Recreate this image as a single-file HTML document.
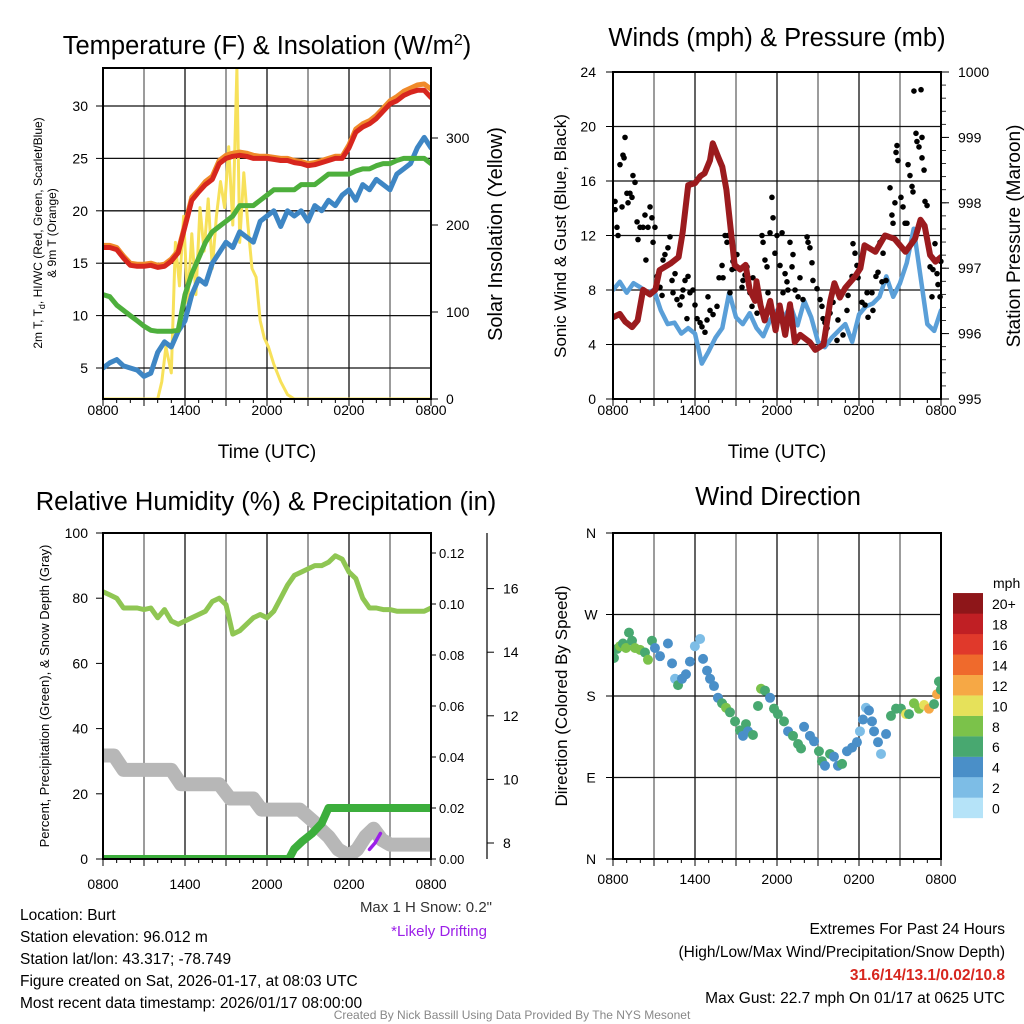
<!DOCTYPE html>
<html><head><meta charset="utf-8"><style>
html,body{margin:0;padding:0;background:#fff;}
svg{display:block;font-family:"Liberation Sans",sans-serif;}
</style></head><body>
<svg id="c" width="1024" height="1024" viewBox="0 0 1024 1024">
<defs>
<clipPath id="cp1"><rect x="103" y="68" width="328" height="331"/></clipPath>
<clipPath id="cp2"><rect x="613" y="72" width="328" height="327"/></clipPath>
<clipPath id="cp3"><rect x="103" y="533" width="328" height="326"/></clipPath>
<clipPath id="cp4"><rect x="613" y="533" width="328" height="326"/></clipPath>
</defs>
<g id="root"></g>
<text x="267" y="54" font-size="25.5" text-anchor="middle">Temperature (F) &amp; Insolation (W/m<tspan dy="-9" font-size="16">2</tspan><tspan dy="9">)</tspan></text>
<text x="777" y="46" font-size="25.5" text-anchor="middle">Winds (mph) &amp; Pressure (mb)</text>
<text x="266" y="510" font-size="25.5" text-anchor="middle">Relative Humidity (%) &amp; Precipitation (in)</text>
<text x="778" y="505" font-size="25.5" text-anchor="middle">Wind Direction</text>
<text x="267" y="458" font-size="19" text-anchor="middle">Time (UTC)</text>
<text x="777" y="458" font-size="19" text-anchor="middle">Time (UTC)</text>
<text transform="translate(42,233) rotate(-90)" font-size="12" text-anchor="middle">2m T, T<tspan font-size="9" dy="3">d</tspan><tspan dy="-3">, HI/WC (Red, Green, Scarlet/Blue)</tspan></text>
<text transform="translate(56,233) rotate(-90)" font-size="12" text-anchor="middle">&amp; 9m T (Orange)</text>
<text transform="translate(502,234) rotate(-90)" font-size="20" text-anchor="middle">Solar Insolation (Yellow)</text>
<text transform="translate(566,236) rotate(-90)" font-size="17" text-anchor="middle">Sonic Wind &amp; Gust (Blue, Black)</text>
<text transform="translate(1020,236) rotate(-90)" font-size="19" text-anchor="middle">Station Pressure (Maroon)</text>
<text transform="translate(49,696) rotate(-90)" font-size="13" text-anchor="middle">Percent, Precipitation (Green), &amp; Snow Depth (Gray)</text>
<text transform="translate(567,696) rotate(-90)" font-size="17" text-anchor="middle">Direction (Colored By Speed)</text>
<text x="993" y="588" font-size="14">mph</text>
<text x="492" y="912" font-size="15" text-anchor="end" fill="#333">Max 1 H Snow: 0.2"</text>
<text x="487" y="936" font-size="15" text-anchor="end" fill="#9b1fe8">*Likely Drifting</text>
<g font-size="15.5">
<text x="20" y="920">Location: Burt</text>
<text x="20" y="942">Station elevation: 96.012 m</text>
<text x="20" y="964">Station lat/lon: 43.317; -78.749</text>
<text x="20" y="986">Figure created on Sat, 2026-01-17, at 08:03 UTC</text>
<text x="20" y="1008">Most recent data timestamp: 2026/01/17 08:00:00</text>
</g>
<g font-size="15.5" text-anchor="end">
<text x="1005" y="934">Extremes For Past 24 Hours</text>
<text x="1005" y="957">(High/Low/Max Wind/Precipitation/Snow Depth)</text>
<text x="1005" y="980" fill="#d7261e" font-weight="bold">31.6/14/13.1/0.02/10.8</text>
<text x="1005" y="1003">Max Gust: 22.7 mph On 01/17 at 0625 UTC</text>
</g>
<text x="512" y="1019" font-size="12" text-anchor="middle" fill="#888">Created By Nick Bassill Using Data Provided By The NYS Mesonet</text>
</svg>
<script>
// ---------- data ----------
const halfHours = [0,0.5,1,1.5,2,2.5,3,3.5,4,4.5,5,5.5,6,6.5,7,7.5,8,8.5,9,9.5,10,10.5,11,11.5,12,12.5,13,13.5,14,14.5,15,15.5,16,16.5,17,17.5,18,18.5,19,19.5,20,20.5,21,21.5,22,22.5,23,23.5,24];
const tempRed = [16.5,16.5,16.3,15.5,14.8,14.7,14.7,14.8,14.6,14.7,15.2,16,18.5,21,21.8,22.5,23,24.5,25,25.2,25.3,25.2,25,25,25,24.9,24.8,24.8,24.6,24.5,24.3,24.4,24.6,24.8,25,25,26,27.5,28,28.3,28.8,29.5,30.2,30.5,31,31.3,31.5,31.5,30.8];
const tempOrange = [16.7,16.7,16.5,15.7,15,14.9,14.9,15,14.8,14.9,15.4,16.2,18.7,21.3,22,22.8,23.3,24.8,25.3,25.5,25.6,25.5,25.3,25.2,25.2,25.1,25,25,24.8,24.7,24.5,24.6,24.8,25,25.2,25.2,26.3,27.8,28.3,28.6,29.1,29.8,30.5,30.9,31.4,31.7,32,32.1,31.6];
const tempGreen = [12,11.8,11,10.5,10,9.5,9,8.6,8.5,8.5,8.5,8.6,12,14,15.5,17,18,18.5,19,19.5,20.5,20.5,20.5,21,21.5,22,22,22,22,22.5,22.5,22.5,23,23.5,23.5,23.5,23.5,23.8,24,24,24.3,24.5,24.5,24.8,25,25,25,25,24.5];
const tempBlue = [5,5.5,5.8,5.2,5,4.8,4.2,4.5,6.5,7.5,7,8.5,9.5,12,13.5,13,15,16,17,16.5,18,17.5,17,19,19.5,20,18.5,20,19.5,20,19,20.5,20,21,20.5,21.5,22,21,22.5,22,23,22.5,22,23.5,24,24.5,26,27,26];
const solarHours = [0,4.0,4.3,4.6,5.0,5.3,5.6,5.9,6.2,6.5,6.8,7.1,7.4,7.7,8.0,8.3,8.6,8.9,9.2,9.5,9.8,10.0,10.3,10.6,10.9,11.2,11.5,11.8,12.1,12.5,13.0,13.5,14,24];
const solarValues = [0,0,20,60,30,180,130,210,110,190,120,220,170,230,150,210,250,220,290,200,380,180,260,200,150,140,90,70,60,40,20,5,0,0];
const windValues = [8,8.6,7.8,8.5,8.2,7.8,8,6.5,5.5,5.6,4.8,5.2,4.8,2.6,3.5,4.5,5.2,7.8,6,5.5,6.3,5.2,4.6,5.8,6.5,6,6.8,5.4,7.2,6,4.2,3.8,4.5,5,5.5,4.2,6.2,6.8,7,7.5,9,7.5,8.5,10,12.5,9,5.5,5,6.5];
const pressureHours = [0,0.5,0.9,1.4,1.8,2.2,2.7,3.1,3.4,4.2,4.8,5.1,5.5,6.0,6.4,6.7,7.1,7.3,7.7,8.0,8.3,8.9,9.3,9.7,10.0,10.4,10.5,10.8,11.1,11.5,11.9,12.2,12.6,12.95,13.3,13.7,14.4,14.8,15.4,15.9,16.2,16.6,17.0,17.7,18.1,18.4,19.2,19.9,20.6,21.4,22.1,22.5,22.8,23.2,23.6,24];
const pressureValues = [996.25,996.3,996.18,996.1,996.2,996.67,996.6,996.67,996.97,997.07,997.17,997.55,998.27,998.3,998.41,998.45,998.65,998.91,998.7,998.55,998.2,997.05,996.98,997.05,996.67,996.5,996.8,996.43,996.2,996.5,996.05,996.43,995.98,996.45,995.87,995.98,995.87,995.75,995.83,996.5,996.77,996.55,996.7,996.87,997.0,997.35,997.25,997.5,997.45,997.25,997.45,997.74,997.65,997.2,997.1,997.17];
const gustHours = [0.15,0.15,0.29,0.37,0.51,0.66,0.73,0.81,0.88,1.02,1.1,1.24,1.39,1.46,1.61,1.76,1.83,1.98,2.2,2.34,2.41,2.56,2.71,2.85,2.93,3.07,3.22,3.44,3.59,3.66,3.8,4.02,4.17,4.32,4.39,4.54,4.68,4.9,5.05,5.12,5.27,5.41,5.49,5.63,5.85,6.0,6.15,6.37,6.51,6.73,6.88,6.95,7.1,7.32,7.61,7.76,7.98,8.05,8.2,8.34,8.41,8.56,8.71,8.78,8.93,9.07,9.29,9.44,9.51,9.66,9.8,10.02,10.17,10.24,10.39,10.54,10.76,10.9,10.98,11.12,11.27,11.34,11.49,11.63,11.71,11.85,12.0,12.22,12.37,12.44,12.59,12.73,12.8,12.95,13.1,13.17,13.32,13.54,13.68,13.9,14.2,14.27,14.41,14.56,14.63,14.93,15.15,15.29,15.37,15.51,15.66,15.88,16.1,16.39,16.46,16.76,16.83,17.12,17.2,17.49,17.56,17.71,17.85,17.93,18.22,18.44,18.59,18.66,18.95,19.02,19.24,19.39,19.54,19.68,19.76,19.98,20.27,20.41,20.49,20.63,20.71,20.78,20.85,21.07,21.22,21.37,21.51,21.59,21.73,21.88,21.95,22.02,22.17,22.24,22.39,22.54,22.61,22.61,22.76,22.83,22.98,23.05,23.2,23.34,23.41,23.56,23.71,23.78,23.93,23.99];
const gustValues = [13.9,14.5,12.6,12.0,17.2,14.1,17.9,17.7,19.2,15.1,14.4,15.1,14.8,16.4,15.9,13.0,11.7,12.6,12.6,13.5,10.2,12.6,14.1,13.3,11.5,12.6,9.0,8.2,7.6,10.2,10.6,11.1,11.9,8.7,7.8,9.2,7.3,6.9,7.5,8.0,8.7,5.9,9.0,7.8,8.0,6.9,5.9,5.6,5.3,4.9,5.8,7.5,6.5,6.2,6.8,8.9,9.8,8.9,12.0,11.5,12.0,7.8,9.5,10.1,9.6,10.6,9.6,8.2,8.7,9.1,9.7,7.8,6.8,8.9,7.6,6.3,7.1,12.0,11.5,10.2,9.7,7.8,12.2,14.8,13.3,10.7,12.0,9.8,12.2,7.8,9.2,8.6,8.0,11.5,9.7,10.6,8.0,7.5,8.9,7.3,11.9,11.5,11.1,10.0,8.7,8.1,7.3,6.8,5.9,5.6,5.2,6.3,7.1,4.3,5.8,7.8,4.7,6.5,7.6,9.0,11.4,10.7,9.8,8.9,7.1,6.9,7.8,6.0,7.8,6.5,9.0,9.3,11.5,8.6,10.7,8.7,15.5,13.5,12.9,14.4,18.1,18.6,17.5,14.8,14.1,12.9,12.9,17.2,16.4,15.6,15.2,22.6,19.5,18.9,18.5,22.7,19.2,17.7,16.8,14.5,14.2,11.4,9.7,7.5,9.5,11.4,9.2,8.4,7.5,10.1];
const rhValues = [82,81,80,77,77,77,76.5,77,74,76.5,73,72,73,74,75,76,79,80,78,69,70,72,74,75,74,76,80,84,87,88,89,90,90,91,93,92,88,86,80,77,77,76.5,76.5,76,76,76,76,76,77];
const precipHours = [0,13.6,14.0,14.6,15.3,16.0,16.5,24];
const precipValues = [0,0,0.004,0.007,0.01,0.014,0.02,0.02];
const snowHours = [0,0.8,1.5,5.0,5.7,8.5,9.3,11.0,11.6,14.4,15.2,15.6,16.0,16.5,17.2,18.0,18.6,19.2,19.8,20.4,21.0,24];
const snowValues = [10.75,10.75,10.3,10.3,9.85,9.85,9.4,9.4,9.05,9.05,8.75,8.6,8.4,8.2,7.8,7.6,7.8,8.2,8.45,8.1,7.95,7.95];
const driftHours = [19.5,19.9,20.3];
const driftValues = [7.8,8.0,8.3];
const dirHours = [0.07,0.29,0.51,0.73,0.95,1.17,1.39,1.61,1.98,2.34,2.56,2.85,3.07,3.44,4.02,4.32,4.54,4.76,5.05,5.34,5.63,5.99,6.37,6.59,6.88,7.1,7.39,7.68,7.98,8.27,8.56,8.93,9.29,9.51,9.73,9.88,10.24,10.61,10.83,11.12,11.49,11.78,12.07,12.51,12.81,13.17,13.54,13.76,13.98,14.41,14.71,15.07,15.29,15.51,15.88,16.17,16.46,16.76,17.12,17.49,17.85,18.07,18.29,18.51,18.73,18.95,19.1,19.39,19.61,19.98,20.34,20.71,21.07,21.44,21.66,22.02,22.39,22.76,23.12,23.49,23.71,23.85,23.99];
const dirValues = [222,232,235,238,233,250,241,233,231,228,220,241,233,224,238,216,199,192,199,204,218,235,243,221,208,199,191,178,172,167,162,152,142,136,149,141,137,169,188,186,178,166,160,152,141,136,127,122,146,136,130,119,108,103,116,113,103,105,119,123,129,141,154,167,164,152,141,129,116,138,158,166,166,160,160,172,166,170,166,171,182,196,187];
const dirSpeeds = [7,7,9,7,9,7,7,9,9,7,9,7,5,5,5,5,3,7,5,5,5,3,3,5,5,5,5,5,7,9,7,7,7,5,7,5,7,7,9,7,5,7,7,7,5,7,7,7,5,5,5,7,7,5,7,5,5,7,5,5,5,3,5,3,5,5,5,5,3,5,7,7,7,11,7,9,9,11,13,7,13,7,7,5,5];
const xTickLabels = ['0800','1400','2000','0200','0800'];
const xTickHours = [0,6,12,18,24];
const tempTicks = [5,10,15,20,25,30];
const solarTicks = [0,100,200,300];
const windTicks = [0,4,8,12,16,20,24];
const pressTicks = [995,996,997,998,999,1000];
const rhTicks = [0,20,40,60,80,100];
const precipTicks = [0,0.02,0.04,0.06,0.08,0.1,0.12];
const snowTicks = [8,10,12,14,16];
const dirTicks = [0,90,180,270,360];
const dirTickLabels = ['N','E','S','W','N'];
const cbarLabels = ['0','2','4','6','8','10','12','14','16','18','20+'];
const cbarColors = ['#b5e3f8','#7dbde6','#4a8fc8','#48a870','#7bc24a','#e6e15a','#f6a845','#ef6a2c','#e0392b','#c01f24','#8e1619'];

// ---------- axis functions ----------
const W = 328;
const x1 = h => 103 + h * W / 24;
const x2 = h => 613 + h * W / 24;
const yT = v => 368 - (v - 5) * 10.48;
const yI = v => 399 - v * 0.87;
const yW = v => 399 - v * 13.625;
const yP = p => 399 - (p - 995) * 65.4;
const yR = v => 859 - v * 3.26;
const yPr = v => 859 - v * 2550;
const ySn = d => 843 - (d - 8) * 31.8;
const yD = d => 859 - d * 326 / 360;

const NS = 'http://www.w3.org/2000/svg';
const root = document.getElementById('root');
function mk(tag, parent, name, inter) {
  const el = document.createElementNS(NS, tag);
  
  
  (parent || root).appendChild(el);
  return el;
}
function line(p, name, xa, ya, xb, yb, stroke, sw) {
  const l = mk('line', p, name, false);
  l.setAttribute('x1', xa); l.setAttribute('y1', ya); l.setAttribute('x2', xb); l.setAttribute('y2', yb);
  l.setAttribute('stroke', stroke); l.setAttribute('stroke-width', sw);
  return l;
}
function text(p, name, x, y, s, size, anchor, fill) {
  const t = mk('text', p, name, false);
  t.setAttribute('x', x); t.setAttribute('y', y);
  t.setAttribute('font-size', size); t.setAttribute('text-anchor', anchor || 'middle');
  if (fill) t.setAttribute('fill', fill);
  t.textContent = s;
  return t;
}
function path(p, name, xs, ys, xf, yf, color, sw, clip) {
  const pa = mk('path', p, name, false);
  let d = '';
  for (let i = 0; i < xs.length; i++) d += (i ? 'L' : 'M') + xf(xs[i]).toFixed(1) + ',' + yf(ys[i]).toFixed(1);
  pa.setAttribute('d', d);
  pa.setAttribute('fill', 'none'); pa.setAttribute('stroke', color); pa.setAttribute('stroke-width', sw);
  pa.setAttribute('stroke-linejoin', 'round'); pa.setAttribute('stroke-linecap', 'round');
  if (clip) pa.setAttribute('clip-path', 'url(#' + clip + ')');
  return pa;
}
function frame(name, X, Y, H, xf) {
  const g = mk('g', null, name, false);
  for (let h = 3; h < 24; h += 3) line(g, 'v-grid-line', xf(h), Y, xf(h), Y + H, h % 6 ? '#666' : '#111', 1.3);
  return g;
}
function xAxis(g, xf, yb, off) {
  for (let h = 0; h <= 24; h++) line(g, 'x-minor-tick', xf(h), yb, xf(h), yb + (h % 3 ? 4 : 7), '#000', 1);
  xTickHours.forEach((h, i) => text(g, 'x-tick-label', xf(h), yb + off, xTickLabels[i], 14));
}
function hgrid(g, ticks, yf, xa, xb) {
  ticks.forEach(v => line(g, 'h-grid-line', xa, yf(v), xb, yf(v), '#111', 1.3));
}
function box(g, X, Y, H) {
  const r = mk('rect', g, 'plot-border', false);
  r.setAttribute('x', X); r.setAttribute('y', Y); r.setAttribute('width', W); r.setAttribute('height', H);
  r.setAttribute('fill', 'none'); r.setAttribute('stroke', '#000'); r.setAttribute('stroke-width', 2);
}

// ---------- panel 1 ----------
const g1 = frame('temperature-panel', 103, 68, 331, x1);
hgrid(g1, tempTicks, yT, 103, 431);
tempTicks.forEach(v => { line(g1, 'y-tick', 96, yT(v), 103, yT(v), '#000', 1); text(g1, 'y-tick-label', 88, yT(v) + 5, v, 14, 'end'); });
solarTicks.forEach(v => { line(g1, 'y2-tick', 431, yI(v), 438, yI(v), '#000', 1); text(g1, 'y2-tick-label', 446, yI(v) + 5, v, 14, 'start'); });
xAxis(g1, x1, 399, 16);
path(g1, 'insolation-line', solarHours, solarValues, x1, yI, '#f7e15a', 3, 'cp1');
path(g1, 'temp-blue-line', halfHours, tempBlue, x1, yT, '#3e86c4', 5, 'cp1');
path(g1, 'temp-green-line', halfHours, tempGreen, x1, yT, '#4daf3c', 5, 'cp1');
path(g1, 'temp-orange-line', halfHours, tempOrange, x1, yT, '#f08a2a', 5, 'cp1');
path(g1, 'temp-red-line', halfHours, tempRed, x1, yT, '#d7261e', 5, 'cp1');
box(g1, 103, 68, 331);

// ---------- panel 2 ----------
const g2 = frame('wind-panel', 613, 72, 327, x2);
hgrid(g2, windTicks, yW, 613, 941);
windTicks.forEach(v => { line(g2, 'y-tick', 606, yW(v), 613, yW(v), '#000', 1); text(g2, 'y-tick-label', 596, yW(v) + 5, v, 14, 'end'); });
for (let p = 995; p <= 1000; p += 0.2) line(g2, 'y2-minor-tick', 941, yP(p), 946, yP(p), '#000', 0.8);
pressTicks.forEach(v => { line(g2, 'y2-tick', 941, yP(v), 949, yP(v), '#000', 1); text(g2, 'y2-tick-label', 958, yP(v) + 5, v, 14, 'start'); });
xAxis(g2, x2, 399, 16);
path(g2, 'wind-speed-line', halfHours, windValues, x2, yW, '#5a9fd8', 4.5, 'cp2');
gustHours.forEach((h, i) => {
  const c = mk('circle', g2, 'gust-point', false);
  c.setAttribute('cx', x2(h)); c.setAttribute('cy', yW(gustValues[i])); c.setAttribute('r', 2.8); c.setAttribute('fill', '#000');
});
path(g2, 'pressure-line', pressureHours, pressureValues, x2, yP, '#9b1b1e', 6, 'cp2');
box(g2, 613, 72, 327);

// ---------- panel 3 ----------
const g3 = frame('humidity-panel', 103, 533, 326, x1);
rhTicks.forEach(v => { line(g3, 'y-tick', 96, yR(v), 103, yR(v), '#000', 1); text(g3, 'y-tick-label', 88, yR(v) + 5, v, 14, 'end'); });
precipTicks.forEach(v => { line(g3, 'precip-tick', 431, yPr(v), 436, yPr(v), '#000', 1); text(g3, 'precip-tick-label', 439, yPr(v) + 5, v.toFixed(2), 13, 'start'); });
line(g3, 'snow-axis-line', 487, 533, 487, 859, '#000', 1.2);
snowTicks.forEach(v => { line(g3, 'snow-tick', 487, ySn(v), 494, ySn(v), '#000', 1); text(g3, 'snow-tick-label', 503, ySn(v) + 5, v, 14, 'start'); });
xAxis(g3, x1, 859, 30);
path(g3, 'snow-depth-line', snowHours, snowValues, x1, ySn, '#b7b7b7', 14, 'cp3');
path(g3, 'rh-line', halfHours, rhValues, x1, yR, '#8fc653', 5, 'cp3');
path(g3, 'precip-line', precipHours, precipValues, x1, yPr, '#3cae3c', 8, 'cp3');
path(g3, 'drifting-line', driftHours, driftValues, x1, ySn, '#9b1fe8', 3.5, 'cp3');
box(g3, 103, 533, 326);

// ---------- panel 4 ----------
const g4 = frame('direction-panel', 613, 533, 326, x2);
hgrid(g4, [90, 180, 270], yD, 613, 941);
dirTicks.forEach((v, i) => { line(g4, 'y-tick', 606, yD(v), 613, yD(v), '#000', 1); text(g4, 'y-tick-label', 591, yD(v) + 5, dirTickLabels[i], 14); });
xAxis(g4, x2, 859, 25);
dirHours.forEach((h, i) => {
  const c = mk('circle', g4, 'direction-point', false);
  c.setAttribute('cx', x2(h)); c.setAttribute('cy', yD(dirValues[i])); c.setAttribute('r', 5);
  c.setAttribute('fill', cbarColors[Math.min(10, Math.floor(dirSpeeds[i] / 2))]);
  c.setAttribute('clip-path', 'url(#cp4)');
});
box(g4, 613, 533, 326);
const cb = mk('g', null, 'speed-colorbar', false);
cbarColors.forEach((col, i) => {
  const r = mk('rect', cb, 'colorbar-box', false);
  const top = 818 - (i + 1) * 20.45;
  r.setAttribute('x', 953); r.setAttribute('y', top); r.setAttribute('width', 30); r.setAttribute('height', 20.6);
  r.setAttribute('fill', col);
  text(cb, 'colorbar-label', 992, top + 16, cbarLabels[i], 14, 'start');
});
</script>
</body></html>
